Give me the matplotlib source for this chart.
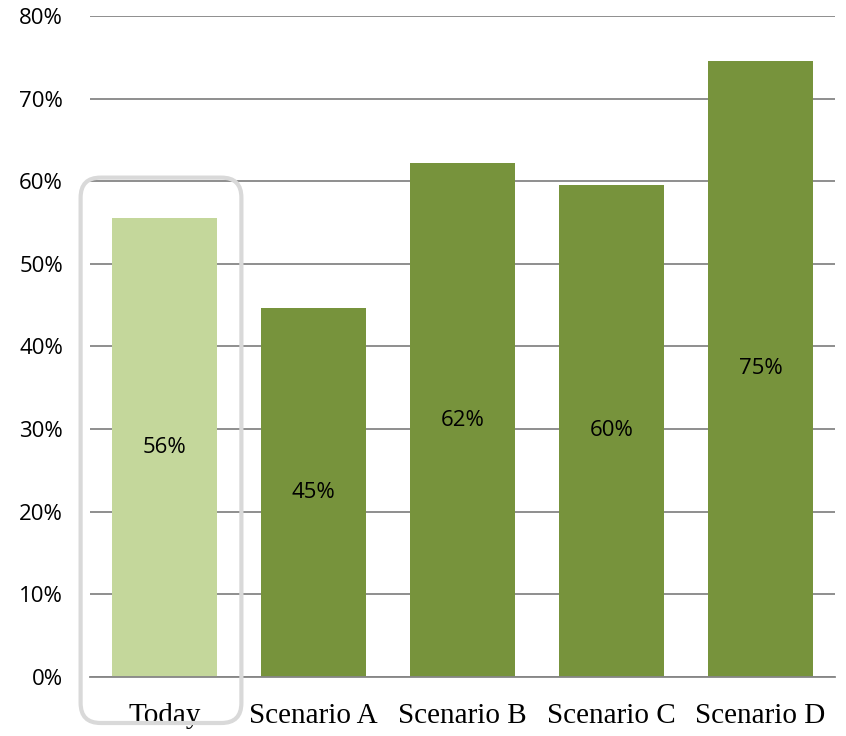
import matplotlib
matplotlib.use('Agg')

import matplotlib.pyplot as plt
from matplotlib.patches import FancyBboxPatch
from matplotlib.ticker import FuncFormatter

categories = ['Today', 'Scenario A', 'Scenario B', 'Scenario C', 'Scenario D']
shares = [55.6, 44.7, 62.2, 59.6, 74.6]
y_ticks = [0, 10, 20, 30, 40, 50, 60, 70, 80]

light_green = '#c4d79b'
dark_green = '#77933c'
colors = [light_green] + [dark_green] * (len(categories) - 1)

fig = plt.figure(figsize=(8.46, 7.36), dpi=100)
ax = fig.add_axes([90 / 846, 59 / 736, 745 / 846, 661 / 736])

positions = list(range(len(categories)))
bars = ax.bar(positions, shares, width=0.71, color=colors, zorder=2)

# value labels in the middle of each bar
for pos, val in zip(positions, shares):
    ax.text(pos, val / 2, f'{val:.0f}%', ha='center', va='center',
            fontsize=16, family='Open Sans', color='black', zorder=3)

ax.set_xlim(-0.5, len(categories) - 0.5)
ax.set_ylim(0, 80)
ax.set_yticks(y_ticks)
ax.yaxis.set_major_formatter(FuncFormatter(lambda v, p: f'{v:.0f}%'))
ax.yaxis.grid(True, color='#868686', linewidth=1.3, zorder=0)
ax.set_axisbelow(True)

ax.set_xticks(positions)
ax.set_xticklabels(categories, family='Liberation Serif', fontsize=21)
for lab in ax.get_yticklabels():
    lab.set_family('Open Sans')
    lab.set_fontsize(16)

for side in ['top', 'right', 'left']:
    ax.spines[side].set_visible(False)
ax.spines['bottom'].set_color('#868686')
ax.spines['bottom'].set_linewidth(1.3)
ax.tick_params(axis='both', length=0)
ax.tick_params(axis='x', pad=19)
ax.tick_params(axis='y', pad=19.5)

# highlight box around the current-state bar
fig.canvas.draw()
bb = bars[0].get_window_extent()
x0, x1 = bb.x0 - 31, bb.x1 + 24
y0, y1 = bb.y0 - 46, bb.y1 + 40
box = FancyBboxPatch((x0, y0), x1 - x0, y1 - y0,
                     boxstyle='round,pad=0,rounding_size=20',
                     transform=None, fill=False, edgecolor='#d9d9d9',
                     linewidth=3, zorder=5, clip_on=False)
fig.patches.append(box)

fig.savefig('out.png', dpi=100)
